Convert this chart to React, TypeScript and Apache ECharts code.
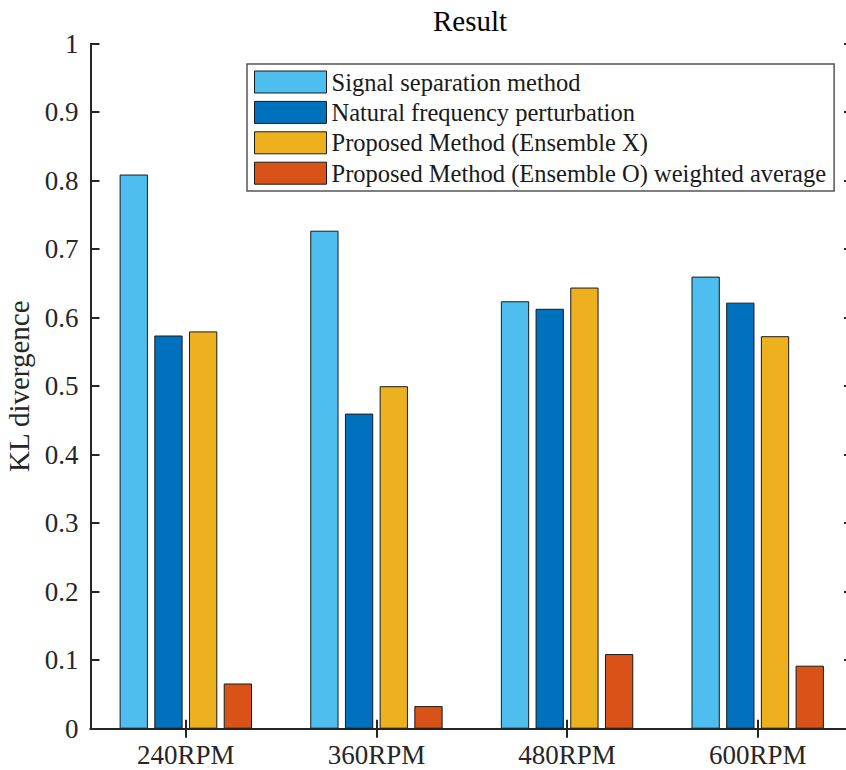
import React, { useEffect, useRef } from "react";
import * as echarts from "echarts";

const categories = ["240RPM", "360RPM", "480RPM", "600RPM"];
const seriesNames = [
  "Signal separation method",
  "Natural frequency perturbation",
  "Proposed Method (Ensemble X)",
  "Proposed Method (Ensemble O) weighted average",
];
const signalSeparation = [0.809, 0.727, 0.624, 0.66];
const naturalFrequency = [0.574, 0.46, 0.613, 0.622];
const ensembleX = [0.58, 0.5, 0.644, 0.573];
const ensembleO = [0.066, 0.033, 0.109, 0.092];
const colors = ["#4DBEEE", "#0072BD", "#EDB120", "#D95319"];

const FONT = "Liberation Serif";
const AX = "#262626";

export default function App() {
  const ref = useRef<HTMLDivElement>(null);
  useEffect(() => {
    if (!ref.current) return;
    const chart = echarts.init(ref.current, null, { renderer: "svg" });
    const values = [signalSeparation, naturalFrequency, ensembleX, ensembleO];
    const gridLeft = 90.5;
    const gridTop = 43.7;
    const gridW = 762.5;
    const gridH = 685;
    chart.setOption({
      animation: false,
      backgroundColor: "#fff",
      textStyle: { fontFamily: FONT },
      grid: {
        left: gridLeft,
        top: gridTop,
        width: gridW,
        height: gridH,
        containLabel: false,
        outerBoundsMode: "none",
      },
      legend: {
        orient: "vertical",
        left: 247,
        top: 64,
        padding: [5.5, 8, 5.3, 7],
        itemWidth: 72,
        itemHeight: 22,
        itemGap: 5.4,
        backgroundColor: "#fff",
        borderColor: "#555",
        borderWidth: 1.5,
        borderRadius: 0,
        itemStyle: { borderColor: "#1a1a1a", borderWidth: 1 },
        textStyle: { fontFamily: FONT, fontSize: 24.5, color: "#1a1a1a" },
        data: seriesNames.map((n) => ({ name: n, icon: "rect" })),
      },
      graphic: [
        {
          type: "text",
          x: 470,
          y: 21,
          style: {
            text: "Result",
            fontFamily: FONT,
            fontSize: 29,
            fill: "#000",
            textAlign: "center",
            textVerticalAlign: "middle",
          },
        },
      ],
      xAxis: [
        {
          type: "category",
          data: categories,
          position: "bottom",
          axisLine: { show: true, lineStyle: { color: AX, width: 2 } },
          axisTick: { show: true, inside: true, alignWithLabel: true, length: 9, lineStyle: { color: AX, width: 2 } },
          axisLabel: { fontFamily: FONT, fontSize: 27, color: "#262626", margin: 13 },
          splitLine: { show: false },
        },
        {
          type: "category",
          data: categories,
          position: "top",
          axisLine: { show: true, lineStyle: { color: AX, width: 2 } },
          axisTick: { show: true, inside: true, alignWithLabel: true, length: 9, lineStyle: { color: AX, width: 2 } },
          axisLabel: { show: false },
          splitLine: { show: false },
        },
      ],
      yAxis: [
        {
          type: "value",
          min: 0,
          max: 1,
          interval: 0.1,
          position: "left",
          name: "KL divergence",
          nameLocation: "middle",
          nameGap: 54,
          nameTextStyle: { fontFamily: FONT, fontSize: 29, color: "#262626" },
          axisLine: { show: true, lineStyle: { color: AX, width: 2 } },
          axisTick: { show: true, inside: true, length: 9, lineStyle: { color: AX, width: 2 } },
          axisLabel: { fontFamily: FONT, fontSize: 27, color: "#262626", margin: 12 },
          splitLine: { show: false },
        },
        {
          type: "value",
          min: 0,
          max: 1,
          interval: 0.1,
          position: "right",
          axisLine: { show: false },
          axisTick: { show: true, inside: true, length: 9, lineStyle: { color: AX, width: 2 } },
          axisLabel: { show: false },
          splitLine: { show: false },
        },
      ],
      series: seriesNames.map((name, i) => ({
        name,
        type: "bar",
        xAxisIndex: 0,
        yAxisIndex: 0,
        data: values[i],
        barWidth: 28.3,
        barGap: "22.6%",
        itemStyle: { color: colors[i], borderColor: "#1a1a1a", borderWidth: 1 },
      })),
    });
    return () => chart.dispose();
  }, []);
  return (
    <div
      style={{ position: "absolute", left: 0, top: 0, width: 846, height: 770, overflow: "hidden" }}
    >
      <div ref={ref} style={{ width: 880, height: 770 }} />
    </div>
  );
}
